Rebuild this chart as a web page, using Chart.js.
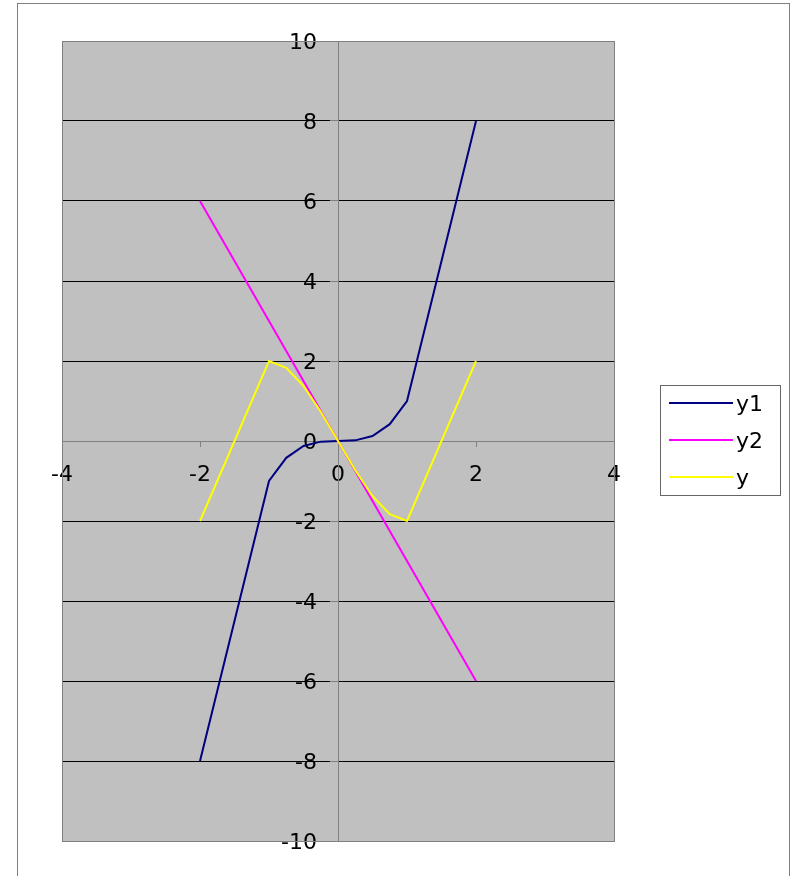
<!DOCTYPE html>
<html lang="en">
<head>
  <meta charset="UTF-8">
  <title>y1, y2, y</title>
  <script src="https://cdn.jsdelivr.net/npm/chart.js"></script>
  <style>
    body {
      margin: 0;
      background: #ffffff;
      overflow: hidden;
    }
    .frame {
      position: absolute;
      left: 17px;
      top: 3px;
      width: 771px;
      height: 900px;
      border: 1px solid #808080;
    }
    #chart {
      position: absolute;
      left: 0;
      top: 0;
    }
  </style>
</head>
<body>
  <div class="frame"></div>
  <canvas id="chart" width="792" height="876"></canvas>

  <script>
// x values shared by all three series
const xValues = [-2, -1, -0.75, -0.5, -0.25, 0, 0.25, 0.5, 0.75, 1, 2];
const y1Values = [-8, -1, -0.42, -0.125, -0.016, 0, 0.016, 0.125, 0.42, 1, 8];
const y2Values = [6, 3, 2.25, 1.5, 0.75, 0, -0.75, -1.5, -2.25, -3, -6];
const yValues = [-2, 2, 1.83, 1.375, 0.73, 0, -0.73, -1.375, -1.83, -2, 2];
const seriesNames = ['y1', 'y2', 'y'];
const seriesColors = ['#000080', '#FF00FF', '#FFFF00'];
const xTicks = [-4, -2, 0, 2, 4];
const yTicks = [-10, -8, -6, -4, -2, 0, 2, 4, 6, 8, 10];

const labelFont = { family: 'DejaVu Sans', size: 22 };

function points(ys) {
  return xValues.map((x, i) => ({ x: x, y: ys[i] }));
}

// gray plot area with its border
const plotFrame = {
  id: 'plotFrame',
  beforeDraw(chart) {
    const { ctx, chartArea: a } = chart;
    ctx.save();
    ctx.fillStyle = '#C0C0C0';
    ctx.fillRect(a.left, a.top, a.right - a.left, a.bottom - a.top);
    ctx.restore();
  },
  beforeDatasetsDraw(chart) {
    const { ctx, chartArea: a } = chart;
    ctx.save();
    ctx.strokeStyle = '#808080';
    ctx.lineWidth = 1;
    ctx.strokeRect(Math.round(a.left) + 0.5, Math.round(a.top) + 0.5,
      Math.round(a.right - a.left), Math.round(a.bottom - a.top));
    ctx.restore();
  }
};

// legend in a bordered box, right of the plot
const boxLegend = {
  id: 'boxLegend',
  afterDraw(chart) {
    const { ctx, chartArea: a } = chart;
    const left = Math.round(a.right) + 46;
    const mid = Math.round((a.top + a.bottom) / 2);
    const top = mid - 56;
    ctx.save();
    ctx.strokeStyle = '#666666';
    ctx.lineWidth = 1;
    ctx.strokeRect(left + 0.5, top + 0.5, 120, 110);
    ctx.font = labelFont.size + 'px ' + labelFont.family;
    ctx.textBaseline = 'middle';
    ctx.fillStyle = '#000000';
    chart.data.datasets.forEach((ds, i) => {
      const y = top + 18 + i * 37;
      ctx.strokeStyle = ds.borderColor;
      ctx.lineWidth = 2;
      ctx.beginPath();
      ctx.moveTo(left + 9, y);
      ctx.lineTo(left + 73, y);
      ctx.stroke();
      ctx.fillText(ds.label, left + 76, y + 2);
    });
    ctx.restore();
  }
};

const ctx = document.getElementById('chart').getContext('2d');
const chart = new Chart(ctx, {
  type: 'scatter',
  data: {
    datasets: [
      { label: seriesNames[0], data: points(y1Values), borderColor: seriesColors[0], order: 3 },
      { label: seriesNames[1], data: points(y2Values), borderColor: seriesColors[1], order: 2 },
      { label: seriesNames[2], data: points(yValues), borderColor: seriesColors[2], order: 1 }
    ].map(ds => Object.assign(ds, {
      showLine: true,
      borderWidth: 2,
      pointRadius: 0,
      pointHoverRadius: 0,
      tension: 0,
      fill: false
    }))
  },
  options: {
    responsive: false,
    animation: false,
    devicePixelRatio: 1,
    layout: {
      padding: { left: 62, top: 41, right: 178, bottom: 35 }
    },
    plugins: {
      legend: { display: false },
      tooltip: { enabled: false }
    },
    scales: {
      x: {
        type: 'linear',
        position: { y: 0 },
        min: xTicks[0],
        max: xTicks[xTicks.length - 1],
        afterBuildTicks: (scale) => { scale.ticks = xTicks.map(v => ({ value: v })); },
        grid: {
          drawOnChartArea: false,
          drawTicks: true,
          tickLength: 5,
          tickColor: '#808080'
        },
        border: { display: true, color: '#808080', width: 1 },
        ticks: {
          color: '#000000',
          font: labelFont,
          padding: 16,
          maxRotation: 0
        }
      },
      y: {
        type: 'linear',
        position: { x: 0 },
        min: yTicks[0],
        max: yTicks[yTicks.length - 1],
        afterBuildTicks: (scale) => { scale.ticks = yTicks.map(v => ({ value: v })); },
        grid: {
          drawOnChartArea: true,
          drawTicks: true,
          tickLength: 8,
          tickColor: '#808080',
          color: (c) => (c.tick && (c.tick.value === 0 || Math.abs(c.tick.value) === 10))
            ? 'rgba(0,0,0,0)' : '#000000'
        },
        border: { display: true, color: '#808080', width: 1 },
        ticks: {
          color: '#000000',
          font: labelFont,
          labelOffset: 2,
          // labels on a centred axis sit right on the line, keep a gap
          callback: (v) => v + '   '
        }
      }
    }
  },
  plugins: [plotFrame, boxLegend]
});
  </script>
</body>
</html>
